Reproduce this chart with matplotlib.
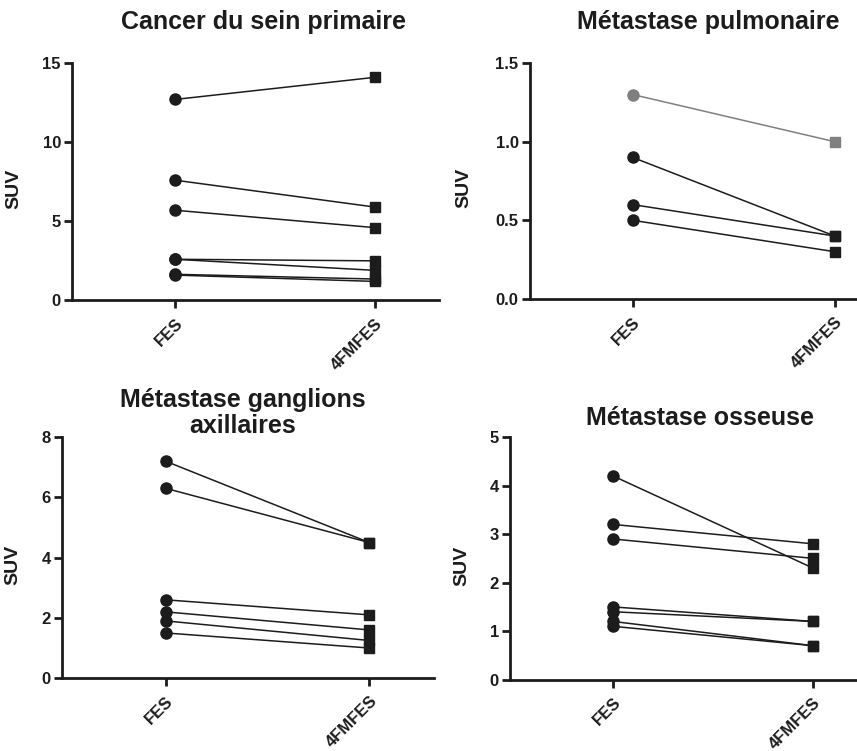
import matplotlib
matplotlib.use("Agg")
import matplotlib.pyplot as plt
import matplotlib.transforms as mtransforms

plt.rcParams["font.family"] = ["Liberation Sans", "DejaVu Sans"]
plt.rcParams["font.weight"] = "bold"

categories = ["FES", "4FMFES"]

titles = [
    "Cancer du sein primaire",
    "Métastase pulmonaire",
    "Métastase ganglions\naxillaires",
    "Métastase osseuse",
]

# SUV per lesion: FES value -> 4FMFES value
sein_fes = [12.7, 7.6, 5.7, 2.6, 2.6, 1.65, 1.6]
sein_4fmfes = [14.1, 5.9, 4.6, 2.5, 1.9, 1.35, 1.2]

poumon_fes = [1.3, 0.9, 0.6, 0.5]
poumon_4fmfes = [1.0, 0.4, 0.4, 0.3]

ganglion_fes = [7.2, 6.3, 2.6, 2.2, 1.9, 1.5]
ganglion_4fmfes = [4.5, 4.5, 2.1, 1.6, 1.25, 1.0]

os_fes = [4.2, 3.2, 2.9, 1.5, 1.4, 1.2, 1.1]
os_4fmfes = [2.3, 2.8, 2.5, 1.2, 1.2, 0.7, 0.7]

yticks = [
    [0, 5, 10, 15],
    [0.0, 0.5, 1.0, 1.5],
    [0, 2, 4, 6, 8],
    [0, 1, 2, 3, 4, 5],
]
ytick_labels = [
    ["0", "5", "10", "15"],
    ["0.0", "0.5", "1.0", "1.5"],
    ["0", "2", "4", "6", "8"],
    ["0", "1", "2", "3", "4", "5"],
]

panels = [
    (sein_fes, sein_4fmfes),
    (poumon_fes, poumon_4fmfes),
    (ganglion_fes, ganglion_4fmfes),
    (os_fes, os_4fmfes),
]

# axes boxes in figure fraction, x limits, ylabel x position, title position
boxes = [
    [0.084, 0.600, 0.428, 0.316],
    [0.618, 0.602, 0.382, 0.314],
    [0.072, 0.097, 0.435, 0.321],
    [0.595, 0.095, 0.405, 0.323],
]
xlims = [(-0.515, 1.32), (-0.51, 1.11), (-0.51, 1.32), (-0.515, 1.22)]
ylabel_x = [-0.136, -0.174, -0.107, -0.115]
title_pos = [(0.307, 0.971), (0.826, 0.971), (0.283, 0.45), (0.817, 0.443)]

ink = "#1c1c1c"

fig = plt.figure(figsize=(8.57, 7.51), dpi=100)
shift = mtransforms.ScaledTranslation(7 / 100, 0, fig.dpi_scale_trans)

for i, (fes, fm) in enumerate(panels):
    ax = fig.add_axes(boxes[i])
    for j, (a, b) in enumerate(zip(fes, fm)):
        col = "#808080" if (i == 1 and j == 0) else ink
        ax.plot([0, 1], [a, b], color=col, lw=1.1, zorder=2)
        ax.plot(0, a, "o", ms=8, color=col, clip_on=False, zorder=3)
        ax.plot(1, b, "s", ms=7.8, color=col, clip_on=False, zorder=3)

    ax.set_xlim(*xlims[i])
    ax.set_ylim(yticks[i][0], yticks[i][-1])
    ax.set_yticks(yticks[i])
    ax.set_yticklabels(ytick_labels[i], fontsize=12, fontweight="bold", color=ink)
    ax.set_xticks([0, 1])
    ax.set_xticklabels(categories, rotation=45, ha="right", rotation_mode="anchor",
                       fontsize=12, fontweight="bold", color=ink)
    for lab in ax.get_xticklabels():
        lab.set_transform(lab.get_transform() + shift)
    ax.tick_params(axis="both", direction="out", length=6, width=2, color=ink, pad=2)
    ax.tick_params(axis="x", pad=5)

    for side in ("top", "right"):
        ax.spines[side].set_visible(False)
    for side in ("left", "bottom"):
        ax.spines[side].set_linewidth(2)
        ax.spines[side].set_color(ink)

    ax.set_ylabel("SUV", fontsize=14, fontweight="bold", color=ink)
    ax.yaxis.set_label_coords(ylabel_x[i], 0.47)

    fig.text(title_pos[i][0], title_pos[i][1], titles[i], ha="center", va="center",
             fontsize=18, fontweight="bold", color=ink, linespacing=1.1)

fig.savefig("out.png", dpi=100, facecolor="white")
